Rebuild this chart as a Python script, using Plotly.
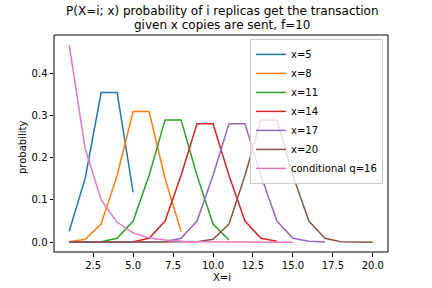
import plotly.graph_objects as go

# Data
series_names = ["x=5", "x=8", "x=11", "x=14", "x=17", "x=20", "conditional q=16"]

p_x5 = [0.026, 0.151, 0.355, 0.355, 0.118]
p_x8 = [0.001, 0.007, 0.043, 0.158, 0.31, 0.31, 0.151, 0.026]
p_x11 = [0.0, 0.0002, 0.001, 0.009, 0.05, 0.158, 0.29, 0.29, 0.158, 0.043, 0.005]
p_x14 = [0.0, 0.0, 0.0, 0.0, 0.001, 0.009, 0.05, 0.158, 0.281, 0.281, 0.158, 0.05, 0.009, 0.002]
p_x17 = [0.0, 0.0, 0.0, 0.0, 0.0, 0.0, 0.001, 0.009, 0.05, 0.158, 0.281, 0.281, 0.158, 0.05,
         0.009, 0.002, 0.0005]
p_x20 = [0.0, 0.0, 0.0, 0.0, 0.0, 0.0, 0.0, 0.0, 0.001, 0.007, 0.043, 0.158, 0.29, 0.29,
         0.158, 0.05, 0.009, 0.001, 0.0001, 0.0]
p_cond = [0.468, 0.222, 0.10, 0.047, 0.022, 0.010, 0.005, 0.002, 0.001, 0.0005, 0.0002,
          0.0001, 0.0, 0.0, 0.0]

all_series = [p_x5, p_x8, p_x11, p_x14, p_x17, p_x20, p_cond]
colors = ["#1f77b4", "#ff7f0e", "#2ca02c", "#d62728", "#9467bd", "#8c564b", "#e377c2"]

title_lines = ["P(X=i; x) probability of i replicas get the transaction",
               "given x copies are sent, f=10"]
x_title = "X=i"
y_title = "probability"

fig = go.Figure()
for name, vals, col in zip(series_names, all_series, colors):
    fig.add_trace(go.Scatter(
        x=list(range(1, len(vals) + 1)), y=vals, mode="lines", name=name,
        line=dict(color=col, width=1.5),
    ))

font = "DejaVu Sans"
W, H = 432, 288
ml, mr, mt, mb = 54, 44, 35, 36
pw, ph = W - ml - mr, H - mt - mb

def px_to_paper(xp, yp):
    return (xp - ml) / pw, 1 - (yp - mt) / ph

annotations = []
for k, (line, ypix) in enumerate(zip(title_lines, [11, 25])):
    xx, yy = px_to_paper(222, ypix)
    annotations.append(dict(text=line, x=xx, y=yy, xref="paper", yref="paper",
                            xanchor="center", yanchor="middle", showarrow=False,
                            font=dict(size=12, family=font, color="black")))
xx, yy = px_to_paper(222, 277)
annotations.append(dict(text=x_title, x=xx, y=yy, xref="paper", yref="paper",
                        xanchor="center", yanchor="middle", showarrow=False,
                        font=dict(size=10, family=font, color="black")))
xx, yy = px_to_paper(22, 148)
annotations.append(dict(text=y_title, x=xx, y=yy, xref="paper", yref="paper",
                        xanchor="center", yanchor="middle", showarrow=False, textangle=-90,
                        font=dict(size=10, family=font, color="black")))

fig.update_layout(
    width=W, height=H,
    margin=dict(l=ml, r=mr, t=mt, b=mb, autoexpand=False),
    paper_bgcolor="white", plot_bgcolor="white",
    font=dict(family=font, size=10, color="black"),
    annotations=annotations,
    shapes=[dict(type="rect", xref="paper", yref="paper", x0=0, x1=1, y0=0, y1=1,
                 line=dict(color="black", width=1), layer="above")],
    legend=dict(
        x=0.985, y=0.982, xanchor="right", yanchor="top",
        bgcolor="rgba(255,255,255,0.8)", bordercolor="#cccccc", borderwidth=1,
        font=dict(size=10, family=font), itemwidth=30, tracegroupgap=0,
    ),
    showlegend=True,
)
fig.update_xaxes(
    range=[0.05, 20.95], tickmode="linear", tick0=0, dtick=2.5, tickformat=".1f",
    showgrid=False, zeroline=False, showline=False,
    ticks="outside", ticklen=3.5, tickcolor="black", automargin=False,
)
fig.update_yaxes(
    range=[-0.0234, 0.4914], tickmode="linear", tick0=0, dtick=0.1, tickformat=".1f",
    showgrid=False, zeroline=False, showline=False,
    ticks="outside", ticklen=3.5, tickcolor="black", automargin=False,
)

fig.write_html("out.html", config={"displayModeBar": False},
               post_script="document.body.style.margin='0';document.body.style.overflow='hidden';")
